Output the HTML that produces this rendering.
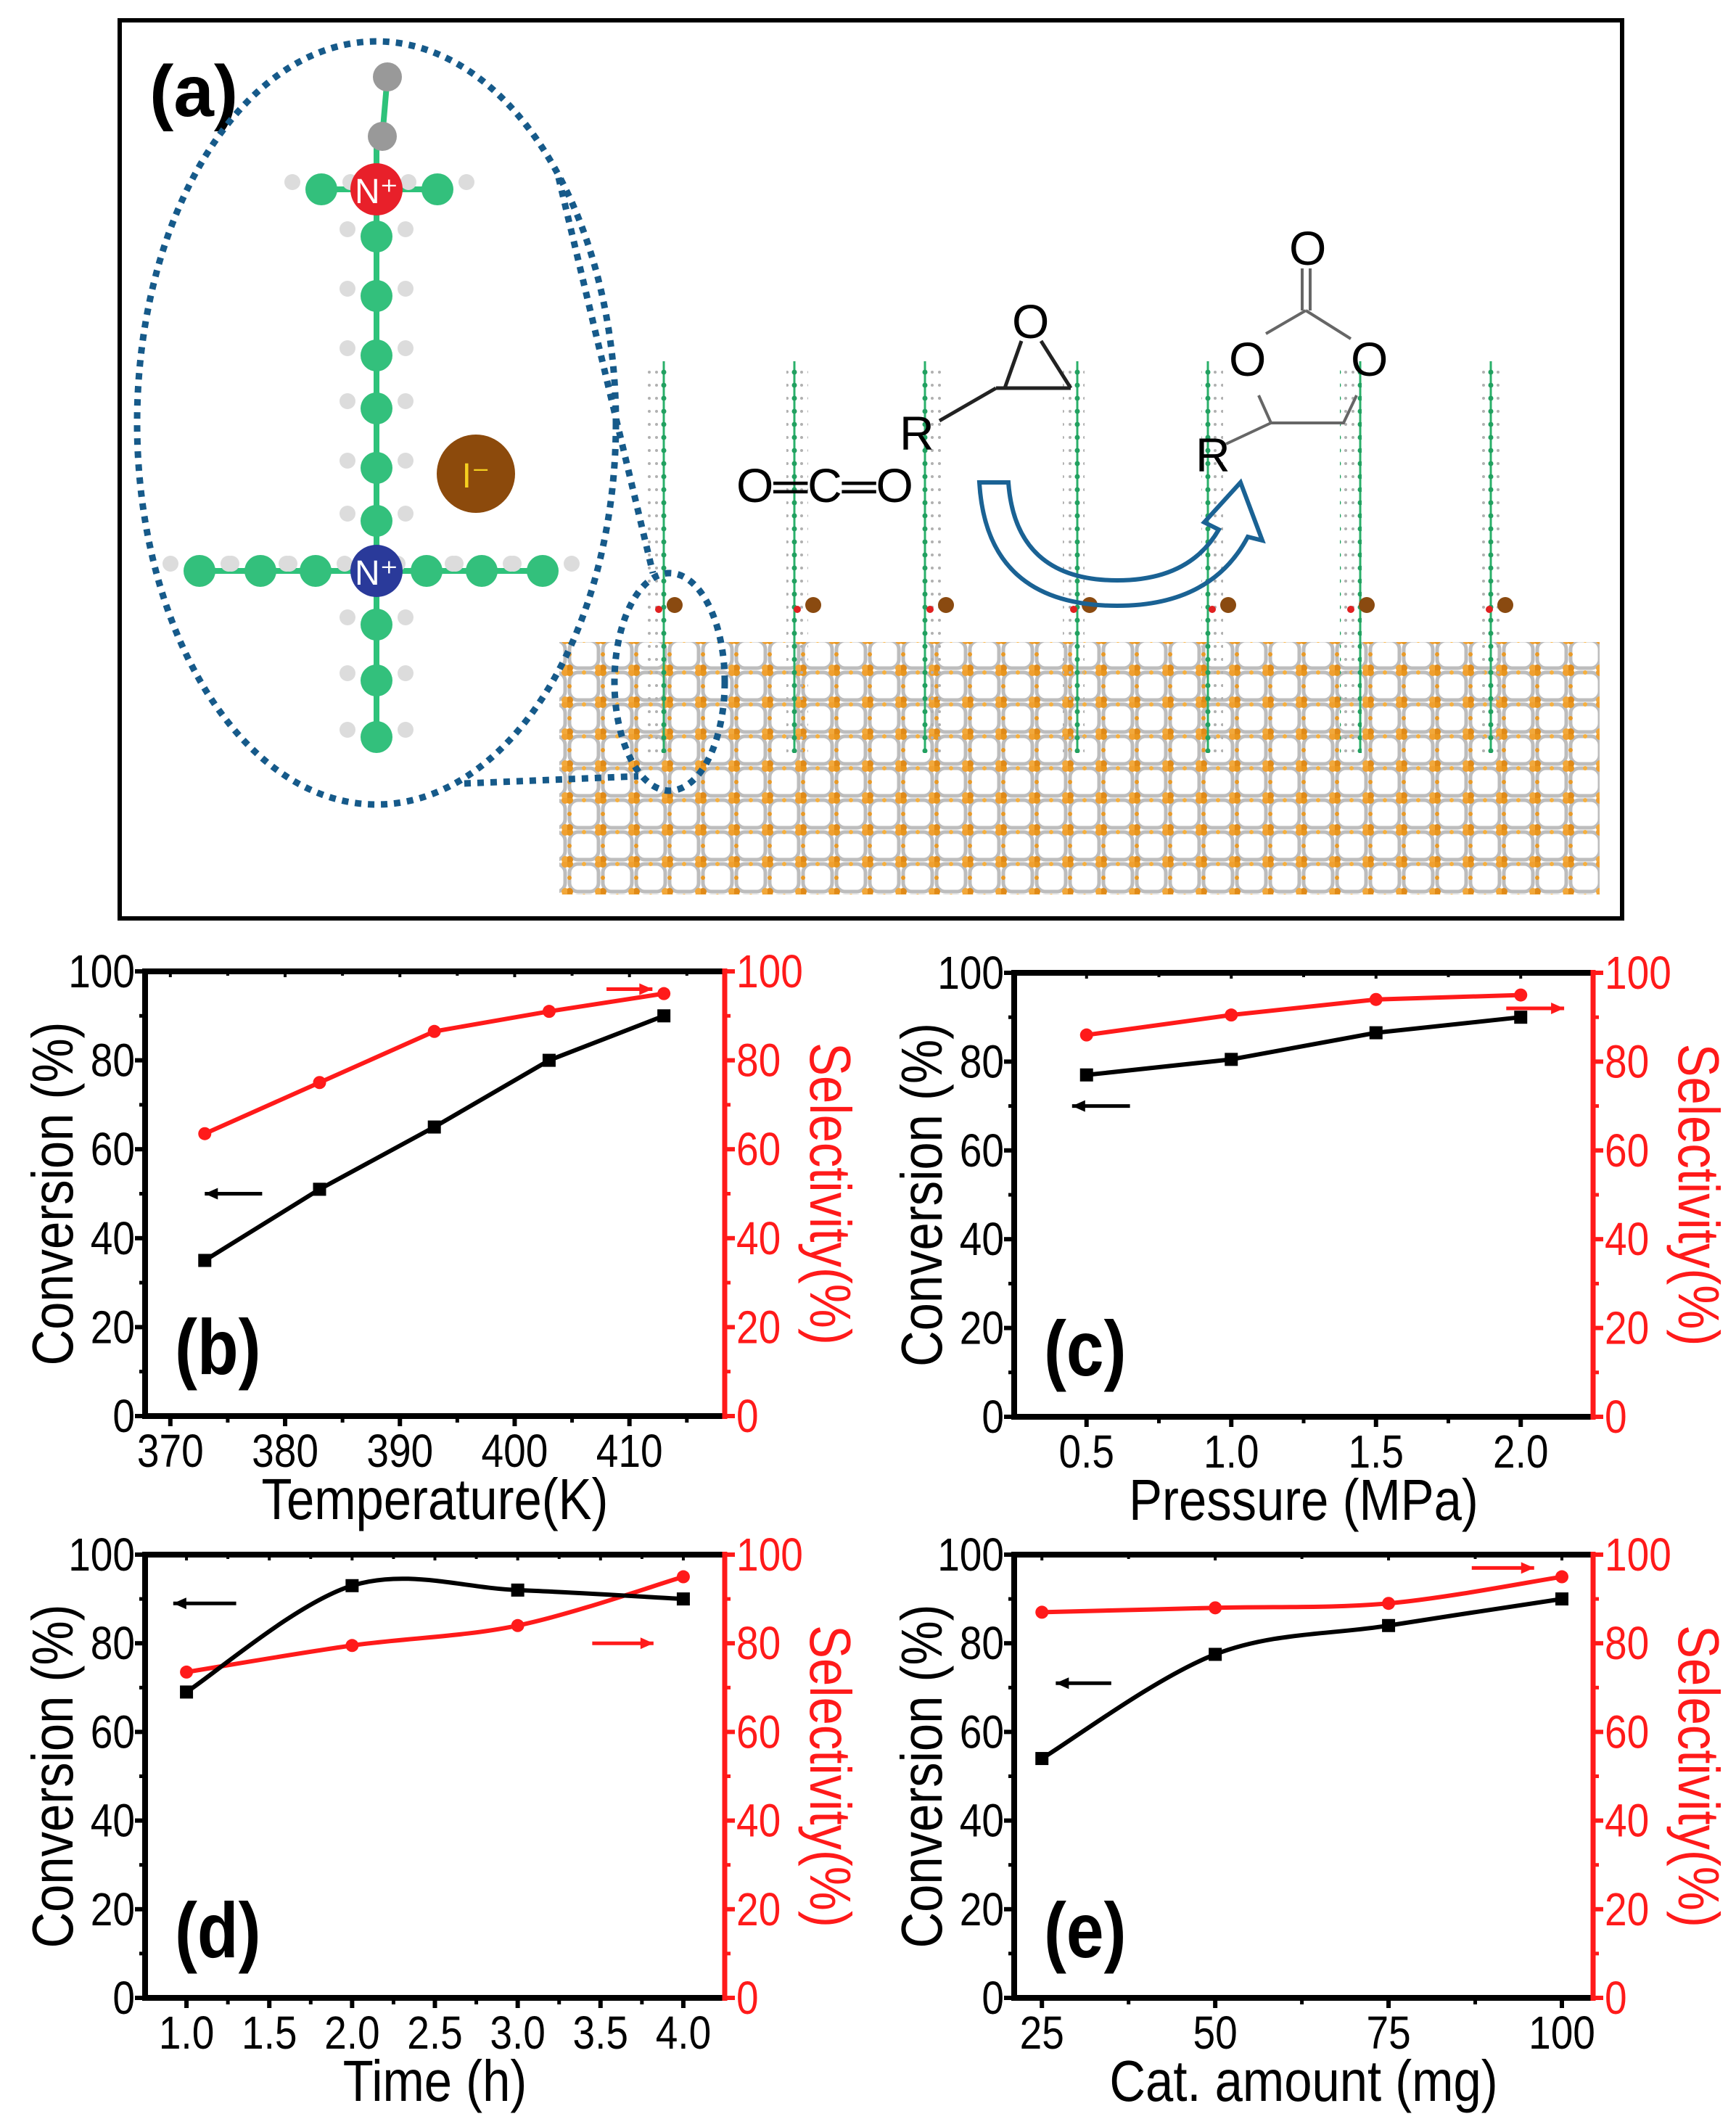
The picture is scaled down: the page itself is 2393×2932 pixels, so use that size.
<!DOCTYPE html>
<html><head><meta charset="utf-8"><style>
html,body{margin:0;padding:0;background:#fff;}
svg{display:block;}
</style></head><body>
<svg id="fig" width="2393" height="2932" viewBox="0 0 2393 2932" xmlns="http://www.w3.org/2000/svg" font-family="Liberation Sans, Arial, sans-serif">
<defs>
<pattern id="zeo" width="46" height="44" patternUnits="userSpaceOnUse">
<rect x="3" y="3" width="40" height="38" rx="12" fill="none" stroke="#bdbdbd" stroke-width="5"/>
<circle cx="3" cy="3" r="5" fill="#e8961e"/><circle cx="43" cy="3" r="5" fill="#f0a030"/>
<circle cx="3" cy="41" r="5" fill="#e08a18"/><circle cx="43" cy="41" r="5" fill="#f2a83a"/>
<circle cx="23" cy="3" r="3" fill="#f5b040"/><circle cx="3" cy="22" r="3" fill="#e89a28"/>
</pattern>
<pattern id="chain" width="30" height="18" patternUnits="userSpaceOnUse">
<line x1="15" y1="0" x2="15" y2="18" stroke="#2ab06a" stroke-width="3"/>
<circle cx="15" cy="9" r="3.5" fill="#22a060"/>
<circle cx="5" cy="9" r="2" fill="#b0b0b0"/><circle cx="25" cy="9" r="2" fill="#b0b0b0"/>
</pattern>
</defs>

<g id="panel-a">
<rect x="165" y="28" width="2071" height="1238" fill="#fff" stroke="#000" stroke-width="6"/>
<text x="206" y="160" font-size="100" font-weight="bold">(a)</text>

<rect x="771" y="885" width="1434" height="348" fill="url(#zeo)"/>
<g id="chains"></g>

<ellipse cx="519" cy="583" rx="330" ry="526" fill="none" stroke="#165a8a" stroke-width="9" stroke-dasharray="9 9"/>
<ellipse cx="923" cy="940" rx="76" ry="150" fill="none" stroke="#165a8a" stroke-width="9" stroke-dasharray="9 9"/>
<line x1="770" y1="245" x2="900" y2="790" stroke="#165a8a" stroke-width="9" stroke-dasharray="9 9"/>
<line x1="640" y1="1080" x2="880" y2="1070" stroke="#165a8a" stroke-width="9" stroke-dasharray="9 9"/>

<g id="molecule"></g>

<g font-size="66" fill="#000">
<text x="1015" y="692">O═C═O</text>
<text x="1395" y="466">O</text>
<path d="M1385 535 L1408 470 M1435 470 L1476 535 M1373 535 L1476 535 M1295 580 L1373 535" stroke="#222" stroke-width="5" fill="none"/>
<text x="1240" y="620">R</text>
<text x="1777" y="365">O</text>
<text x="1694" y="518">O</text>
<text x="1862" y="518">O</text>
<path d="M1795 370 L1795 428 M1806 370 L1806 428 M1800 428 L1745 460 M1800 428 L1862 467 M1735 545 L1752 583 L1852 583 L1870 545 M1752 583 L1690 612" stroke="#666" stroke-width="4" fill="none"/>
<text x="1648" y="650">R</text>
<path d="M1350 665 L1390 665 Q1400 800 1540 800 Q1640 800 1680 730 L1660 720 L1710 665 L1740 745 L1720 740 Q1670 835 1540 835 Q1360 835 1350 665 Z" fill="none" stroke="#1a6294" stroke-width="6"/>
</g>
</g>

<g id="charts"></g>
</svg>
<script>
var NS='http://www.w3.org/2000/svg';
function mk(tag,attrs,parent){var e=document.createElementNS(NS,tag);for(var k in attrs)e.setAttribute(k,attrs[k]);if(parent)parent.appendChild(e);return e;}

// ---------- panel a molecule ----------
var mol=document.getElementById('molecule');
var chainsG=document.getElementById('chains');
var chainX=[908,1099,1282,1480,1671,1862,2053];
chainX.forEach(function(x){
  var r=mk('rect',{x:x-15,y:498,width:30,height:540,fill:'url(#chain)'},chainsG);
  
  
  var b=mk('circle',{cx:x+22,cy:834,r:11,fill:'#8a4a10'},chainsG);
  
  
  mk('circle',{cx:x,cy:840,r:5,fill:'#e02020'},chainsG);
});
var bonds=[[519,188,519,1016],[275,787,748,787],[443,261,603,261],[534,106,527,188]];
bonds.forEach(function(b){mk('line',{x1:b[0],y1:b[1],x2:b[2],y2:b[3],stroke:'#2ec27a','stroke-width':8},mol);});
var greens=[[519,326],[519,408],[519,490],[519,563],[519,645],[519,718],[519,861],[519,938],[519,1016],[275,787],[359,787],[435,787],[588,787],[664,787],[748,787],[443,261],[603,261]];
greens.forEach(function(p){
  mk('circle',{cx:p[0]-40,cy:p[1]-10,r:11,fill:'#dcdcdc'},mol);
  mk('circle',{cx:p[0]+40,cy:p[1]-10,r:11,fill:'#dcdcdc'},mol);
  var c=mk('circle',{cx:p[0],cy:p[1],r:22,fill:'#33c07c'},mol);
  
  
});
mk('circle',{cx:534,cy:106,r:20,fill:'#999'},mol);
mk('circle',{cx:527,cy:188,r:20,fill:'#999'},mol);
var n1=mk('circle',{cx:519,cy:261,r:36,fill:'#e8202a'},mol);


var t1=mk('text',{x:519,y:280,'font-size':48,fill:'#fff','text-anchor':'middle'},mol);t1.textContent='N⁺';
var n2=mk('circle',{cx:519,cy:787,r:36,fill:'#2a3a9a'},mol);


var t2=mk('text',{x:519,y:806,'font-size':48,fill:'#fff','text-anchor':'middle'},mol);t2.textContent='N⁺';
var io=mk('circle',{cx:656,cy:653,r:54,fill:'#8c4a0c'},mol);


var t3=mk('text',{x:656,y:672,'font-size':48,fill:'#f5d020','text-anchor':'middle'},mol);t3.textContent='I⁻';

// ---------- chart data ----------
var bX=[373,383,393,403,413];
var bConv=[35,51,65,80,90];
var bSel=[63.5,75,86.5,91,95];
var bTicks=[370,380,390,400,410];
var cX=[0.5,1.0,1.5,2.0];
var cConv=[77,80.5,86.5,90];
var cSel=[86,90.5,94,95];
var cTicks=['0.5','1.0','1.5','2.0'];
var dX=[1,2,3,4];
var dConv=[69,93,92,90];
var dSel=[73.5,79.5,84,95];
var dTicks=['1.0','1.5','2.0','2.5','3.0','3.5','4.0'];
var eX=[25,50,75,100];
var eConv=[54,77.5,84,90];
var eSel=[87,88,89,95];
var eTicks=['25','50','75','100'];
var yTicks=[0,20,40,60,80,100];

var panels=[
 {id:'b',L:200,R:999,T:1339,B:1952,x0:367.8,x1:418.3,xs:bX,conv:bConv,sel:bSel,ticks:bTicks,minor:5,title:'Temperature(K)',smooth:false,
  arrL:[373,378,50],arrR:[408,412,96]},
 {id:'c',L:1398,R:2196,T:1341,B:1953,x0:0.25,x1:2.25,xs:cX,conv:cConv,sel:cSel,ticks:cTicks,minor:0.25,title:'Pressure (MPa)',smooth:false,
  arrL:[0.45,0.65,70],arrR:[1.95,2.15,92]},
 {id:'d',L:200,R:999,T:2143,B:2754,x0:0.75,x1:4.25,xs:dX,conv:dConv,sel:dSel,ticks:dTicks,minor:0.25,title:'Time (h)',smooth:true,
  arrL:[0.92,1.3,89],arrR:[3.45,3.82,80]},
 {id:'e',L:1398,R:2196,T:2143,B:2754,x0:21,x1:104.5,xs:eX,conv:eConv,sel:eSel,ticks:eTicks,minor:12.5,title:'Cat. amount (mg)',smooth:true,
  arrL:[27,35,71],arrR:[87,96,97]}
];

function pathFor(pts,smooth){
  var d='M'+pts[0][0]+' '+pts[0][1];
  if(!smooth){for(var i=1;i<pts.length;i++)d+=' L'+pts[i][0]+' '+pts[i][1];return d;}
  for(var i=0;i<pts.length-1;i++){
    var p0=pts[i-1]||pts[i],p1=pts[i],p2=pts[i+1],p3=pts[i+2]||p2;
    var c1x=p1[0]+(p2[0]-p0[0])/6,c1y=p1[1]+(p2[1]-p0[1])/6;
    var c2x=p2[0]-(p3[0]-p1[0])/6,c2y=p2[1]-(p3[1]-p1[1])/6;
    d+=' C'+c1x+' '+c1y+' '+c2x+' '+c2y+' '+p2[0]+' '+p2[1];
  }
  return d;
}
function txt(g,x,y,s,size,opts){
  opts=opts||{};
  var t=mk('text',{transform:'translate('+x+','+y+')'+(opts.rot?' rotate('+opts.rot+')':'')+' scale(0.86,1)','font-size':size,'text-anchor':opts.anchor||'middle',fill:opts.fill||'#000','font-weight':opts.bold?'bold':'normal'},g);
  t.textContent=s;return t;
}
function arrow(g,x1,x2,y,color,dir){
  mk('line',{x1:x1,y1:y,x2:x2,y2:y,stroke:color,'stroke-width':5},g);
  var tip=dir<0?x1:x2;
  mk('path',{d:'M'+tip+' '+y+' l'+(-dir*18)+' -8 l0 16 z',fill:color},g);
}

var root=document.getElementById('charts');
panels.forEach(function(p){
  var g=mk('g',{},root);
  
  
  var xsc=function(v){return p.L+(v-p.x0)/(p.x1-p.x0)*(p.R-p.L);};
  var ysc=function(v){return p.B-v/100*(p.B-p.T);};
  // frame
  var fr=mk('path',{d:'M'+p.R+' '+p.T+' L'+p.L+' '+p.T+' L'+p.L+' '+p.B+' L'+p.R+' '+p.B,fill:'none',stroke:'#000','stroke-width':8},g);
  
  
  var ra=mk('line',{x1:p.R,y1:p.T-4,x2:p.R,y2:p.B+4,stroke:'#ff1a1a','stroke-width':7},g);
  
  
  // y ticks
  yTicks.forEach(function(v){
    var y=ysc(v);
    mk('line',{x1:p.L-14,y1:y,x2:p.L,y2:y,stroke:'#000','stroke-width':6},g);
    mk('line',{x1:p.R,y1:y,x2:p.R+14,y2:y,stroke:'#ff1a1a','stroke-width':6},g);
    var l=txt(g,p.L-14,y+22,String(v),64,{anchor:'end'});
    
    
    var r=txt(g,p.R+16,y+22,String(v),64,{anchor:'start',fill:'#ff1a1a'});
    
    
    if(v<100){
      var ym=ysc(v+10);
      mk('line',{x1:p.L-8,y1:ym,x2:p.L,y2:ym,stroke:'#000','stroke-width':5},g);
      mk('line',{x1:p.R,y1:ym,x2:p.R+8,y2:ym,stroke:'#ff1a1a','stroke-width':5},g);
    }
  });
  // x ticks
  p.ticks.forEach(function(s){
    var x=xsc(parseFloat(s));
    mk('line',{x1:x,y1:p.B,x2:x,y2:p.B+14,stroke:'#000','stroke-width':6},g);
    mk('line',{x1:x,y1:p.T,x2:x,y2:p.T+8,stroke:'#000','stroke-width':4},g);
    var l=txt(g,x,p.B+70,String(s),64);
    
    
  });
  var first=parseFloat(p.ticks[0]);
  for(var v=first-p.minor;v<p.x1;v+=p.minor*2){
    if(v<=p.x0)continue;
    var x=xsc(v);
    mk('line',{x1:x,y1:p.B,x2:x,y2:p.B+9,stroke:'#000','stroke-width':5},g);
    mk('line',{x1:x,y1:p.T,x2:x,y2:p.T+6,stroke:'#000','stroke-width':4},g);
  }
  // titles
  var xt=txt(g,(p.L+p.R)/2,p.B+142,p.title,80);
  
  
  var yt=txt(g,p.L-100,(p.T+p.B)/2,'Conversion (%)',80,{rot:-90});
  
  
  var st=txt(g,p.R+118,(p.T+p.B)/2,'Selectivity(%)',80,{rot:90,fill:'#ff1a1a'});
  
  
  var pl=txt(g,p.L+41,p.T+555,'('+p.id+')',108,{anchor:'start',bold:true});
  
  
  // series
  var cp=p.xs.map(function(x,i){return [xsc(x),ysc(p.conv[i])];});
  var sp=p.xs.map(function(x,i){return [xsc(x),ysc(p.sel[i])];});
  var sl=mk('path',{d:pathFor(sp,p.smooth),fill:'none',stroke:'#ff1a1a','stroke-width':6},g);
  
  
  var cl=mk('path',{d:pathFor(cp,p.smooth),fill:'none',stroke:'#000','stroke-width':6},g);
  
  
  sp.forEach(function(q){
    var m=mk('circle',{cx:q[0],cy:q[1],r:9,fill:'#ff1a1a'},g);
    
    
  });
  cp.forEach(function(q){
    var m=mk('rect',{x:q[0]-9,y:q[1]-9,width:18,height:18,fill:'#000'},g);
    
    
  });
  var ag=mk('g',{},g);
  
  
  arrow(ag,xsc(p.arrL[0]),xsc(p.arrL[1]),ysc(p.arrL[2]),'#000',-1);
  arrow(ag,xsc(p.arrR[0]),xsc(p.arrR[1]),ysc(p.arrR[2]),'#ff1a1a',1);
});
</script>
</body></html>
